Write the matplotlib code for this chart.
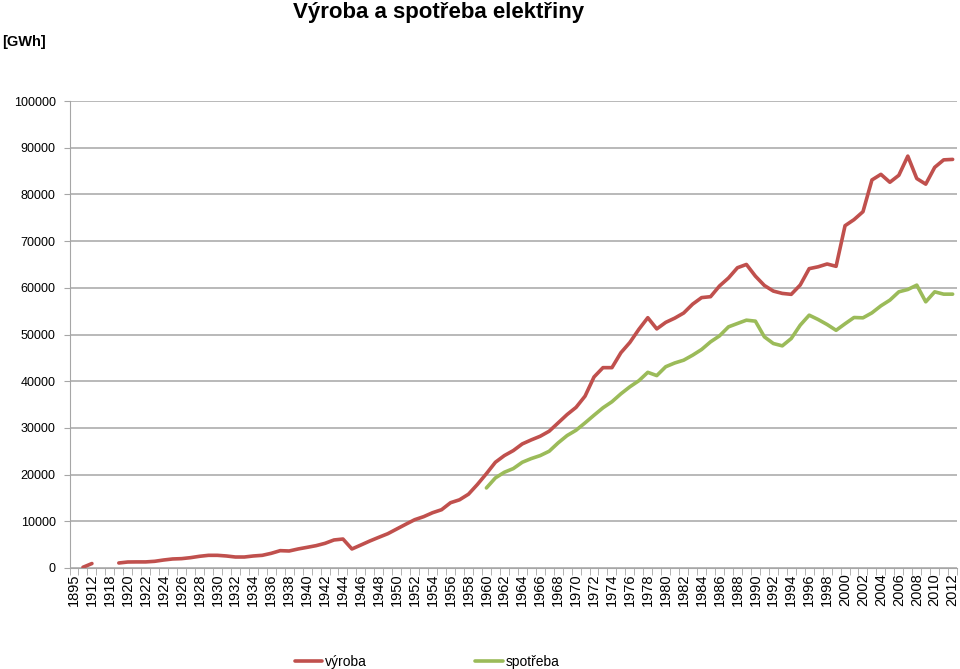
import matplotlib
matplotlib.use('Agg')
import matplotlib.pyplot as plt
import numpy as np

plt.rcParams['font.family'] = ['Liberation Sans', 'DejaVu Sans']

# categories (two early years are unlabelled in the source, guessed here)
years = [1895, 1900, 1912, 1913] + list(range(1918, 2013))

# výroba: 1895, 1900, 1912, 1913, 1918, then 1919..2012
vyroba = [np.nan, 150, 950, np.nan, np.nan,
          1070, 1280, 1300, 1300, 1430, 1710, 1930, 2000, 2210, 2500,
          2710, 2710, 2570, 2350, 2350, 2570, 2710, 3140, 3710, 3640,
          4070, 4420, 4780, 5280, 6000, 6200, 4070, 4920, 5780, 6570,
          7340, 8350, 9360, 10340, 10990, 11840, 12480, 13980, 14600, 15800,
          17900, 20200, 22640, 24070, 25140, 26570, 27430, 28210, 29290, 31070,
          32860, 34400, 36800, 40900, 42900, 42900, 46100, 48300, 51100, 53600,
          51200, 52600, 53500, 54600, 56500, 57900, 58100, 60400, 62100, 64300,
          65000, 62500, 60500, 59300, 58800, 58600, 60600, 64100, 64500, 65100,
          64600, 73300, 74600, 76300, 83100, 84300, 82600, 84100, 88200, 83400,
          82200, 85800, 87400, 87500]

# spotřeba: 1960..2012
spotreba_vals = [17140, 19290, 20500, 21290, 22640, 23430, 24070, 25000, 26790, 28360,
                 29500, 31070, 32710, 34300, 35600, 37300, 38800, 40100, 41900, 41200,
                 43100, 43900, 44500, 45570, 46790, 48430, 49710, 51640, 52360, 53070,
                 52860, 49500, 48070, 47570, 49140, 52000, 54140, 53210, 52140, 50900,
                 52300, 53640, 53570, 54640, 56140, 57360, 59140, 59640, 60570, 57000,
                 59140, 58640, 58640]

spotreba = np.full(len(years), np.nan)
spotreba[-len(spotreba_vals):] = spotreba_vals

x = np.arange(len(years))

fig = plt.figure(figsize=(9.6, 6.69), dpi=100)
ax = fig.add_axes([0.0724, 0.151, 0.9246, 0.698])

ax.plot(x, vyroba, color='#C0504D', lw=2.6, solid_joinstyle='round',
        solid_capstyle='round', label='výroba')
ax.plot(x, spotreba, color='#9BBB59', lw=2.6, solid_joinstyle='round',
        solid_capstyle='round', label='spotřeba')

ax.set_xlim(-0.5, len(years) - 0.5)
ax.set_ylim(0, 100000)
ax.set_yticks(np.arange(0, 100001, 10000))
ax.yaxis.grid(True, color='#A6A6A6', lw=1.1)
ax.set_axisbelow(True)

ax.set_xticks(x[::2])
ax.set_xticklabels([str(y) for y in years[::2]], rotation=90, fontsize=10.5)
ax.set_xticks(np.arange(-0.5, len(years), 1), minor=True)
ax.tick_params(axis='x', which='major', length=0, pad=4)
ax.tick_params(axis='x', which='minor', length=5, color='#A6A6A6', direction='out')
ax.tick_params(axis='y', length=4, color='#A6A6A6', labelsize=9, pad=6)

for s in ['top', 'right']:
    ax.spines[s].set_visible(False)
for s in ['left', 'bottom']:
    ax.spines[s].set_color('#A6A6A6')

fig.text(0.457, 0.981, 'Výroba a spotřeba elektřiny', ha='center', va='center',
         fontsize=16, fontweight='bold')
fig.text(0.002, 0.937, '[GWh]', ha='left', va='center', fontsize=10.5, fontweight='bold')

fig.legend(loc='center', bbox_to_anchor=(0.445, 0.011), ncol=2, frameon=False,
           fontsize=10, handlelength=2.0, handletextpad=0.2, columnspacing=7.8)

fig.savefig('out.png', dpi=100)
